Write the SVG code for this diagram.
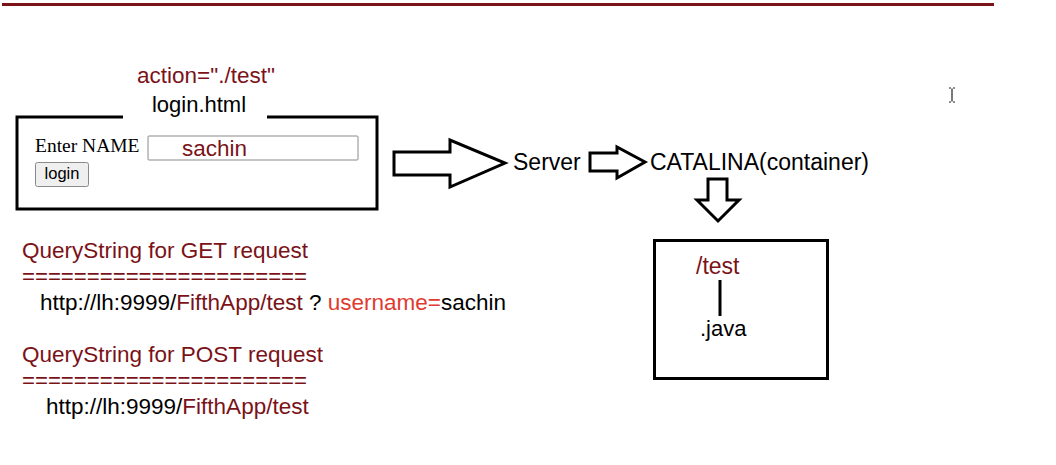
<svg xmlns="http://www.w3.org/2000/svg" width="1056" height="465" viewBox="0 0 1056 465">
<style>
  text { font-family: "Liberation Sans", Arial, sans-serif; fill: #000; }
  .dr { fill: #7a1218; }
  .rd { fill: #e03a30; }
  .big { font-size: 22.5px; }
  .lg { font-size: 23px; }
  .box { fill: none; stroke: #000; stroke-width: 3; }
  .arrow { fill: #fff; stroke: #000; stroke-width: 3; stroke-linejoin: miter; }
</style>
<rect width="1056" height="465" fill="#fff"/>
<rect x="2" y="3" width="992" height="3" fill="#7a1218"/>

<g id="login-form">
  <text class="big dr" x="206" y="83" text-anchor="middle">action="./test"</text>
  <path class="box" d="M123,117 H17 V209 H377 V117 H267"/>
  <text x="199" y="112" text-anchor="middle" style="font-size:22px">login.html</text>
  <text x="35" y="152" style="font-family:'Liberation Serif','Times New Roman',serif;font-size:19.5px">Enter NAME</text>
  <rect x="148" y="136" width="210" height="24" fill="#fff" stroke="#8a8a8a" stroke-width="1" rx="1"/>
  <text class="big dr" x="182" y="156">sachin</text>
  <rect x="35.5" y="162.5" width="53" height="24" fill="#efefef" stroke="#8a8a8a" stroke-width="1" rx="2"/>
  <text x="62" y="179" text-anchor="middle" style="font-size:16.5px">login</text>
</g>

<g id="server">
  <text class="lg" x="513" y="170">Server</text>
</g>
<g id="catalina">
  <text class="lg" x="650" y="170">CATALINA(container)</text>
</g>

<g id="servlet">
  <rect class="box" x="654.5" y="240.5" width="173" height="138"/>
  <text class="lg dr" x="696" y="274">/test</text>
  <line x1="720" y1="280" x2="720" y2="316" stroke="#000" stroke-width="3"/>
  <text x="700" y="336" style="font-size:22px">.java</text>
</g>

<g id="connectors">
  <path class="arrow" d="M394,152 H450 V140 L505,163 L450,187 V175 H394 Z"/>
  <path class="arrow" d="M590,153 H617 V147 L645,162 L617,178 V171 H590 Z"/>
  <path class="arrow" d="M708,179 H727 V200 H739 L718,221 L697,200 H708 Z"/>
</g>

<g id="querystrings">
  <text class="big dr" x="22" y="258">QueryString for GET request</text>
  <text class="big dr" x="22" y="284" textLength="285" lengthAdjust="spacingAndGlyphs">======================</text>
  <text class="big" x="40" y="310">http://lh:9999/<tspan class="dr">FifthApp/test</tspan> ? <tspan class="rd">username=</tspan>sachin</text>
  <text class="big dr" x="22" y="362">QueryString for POST request</text>
  <text class="big dr" x="22" y="388" textLength="285" lengthAdjust="spacingAndGlyphs">======================</text>
  <text class="big" x="46" y="414">http://lh:9999/<tspan class="dr">FifthApp/test</tspan></text>
</g>

<g id="cursor" stroke="#222" stroke-width="1.2" fill="none">
  <path d="M949,88 H951 M953,88 H955 M952,88.5 V101.5 M949,102 H951 M953,102 H955"/>
</g>
</svg>
